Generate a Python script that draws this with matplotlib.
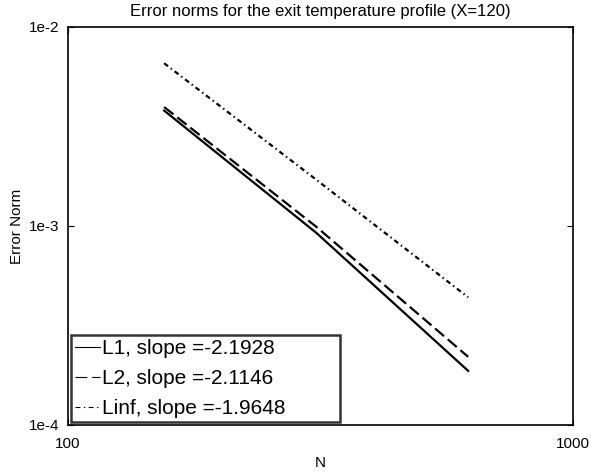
import matplotlib
matplotlib.use("Agg")
import matplotlib.pyplot as plt
from matplotlib.ticker import FixedLocator, FixedFormatter, NullLocator

plt.rcParams['font.family'] = ['Liberation Sans', 'DejaVu Sans']
plt.rcParams['lines.scale_dashes'] = False

# grid sizes and error norms at the exit profile
N = [155, 310, 620]
err_L1 = [3.80e-3, 9.25e-4, 1.87e-4]
err_L2 = [3.96e-3, 9.92e-4, 2.20e-4]
err_Linf = [6.57e-3, 1.71e-3, 4.38e-4]

labels = ['L1, slope =-2.1928', 'L2, slope =-2.1146', 'Linf, slope =-1.9648']
xticks = [100, 1000]
xticklabels = ['100', '1000']
yticks = [1e-4, 1e-3, 1e-2]
yticklabels = ['1e-4', '1e-3', '1e-2']

fig = plt.figure(figsize=(5.91, 4.75), dpi=100)
ax = fig.add_axes([0.1151, 0.1053, 0.8545, 0.8379])

ax.loglog(N, err_L1, color='black', lw=1.6, linestyle='-', label=labels[0])
ax.loglog(N, err_L2, color='black', lw=1.6, linestyle=(0, (8.5, 3.5)), label=labels[1])
ax.loglog(N, err_Linf, color='black', lw=1.6, linestyle=(0, (3.5, 2.5, 1, 2.5)), label=labels[2])

ax.set_xlim(100, 1000)
ax.set_ylim(1e-4, 1e-2)

ax.xaxis.set_major_locator(FixedLocator(xticks))
ax.xaxis.set_major_formatter(FixedFormatter(xticklabels))
ax.xaxis.set_minor_locator(NullLocator())
ax.yaxis.set_major_locator(FixedLocator(yticks))
ax.yaxis.set_major_formatter(FixedFormatter(yticklabels))
ax.yaxis.set_minor_locator(NullLocator())
ax.tick_params(direction='in', length=4, width=0.8, labelsize=11,
               top=True, right=True, pad=6)
ax.tick_params(axis='x', pad=9)

for s in ax.spines.values():
    s.set_linewidth(1.2)

ax.set_title('Error norms for the exit temperature profile (X=120)', fontsize=12, pad=8)
ax.set_xlabel('N', fontsize=11, labelpad=3)
ax.set_ylabel('Error Norm', fontsize=11, labelpad=4)

# wide box anchored in the lower left corner, entries left-aligned
leg = ax.legend(loc='lower left', bbox_to_anchor=(0.006, 0.0075, 0.533, 0.2),
                mode='expand', fontsize=15, frameon=True, fancybox=False,
                handlelength=1.2, handletextpad=0.1, borderpad=0.2,
                labelspacing=0.52, borderaxespad=0.0)
leg.get_frame().set_edgecolor('black')
leg.get_frame().set_linewidth(1.8)
for line in leg.get_lines():
    line.set_linewidth(0.8)

fig.savefig('out.png', dpi=100)
